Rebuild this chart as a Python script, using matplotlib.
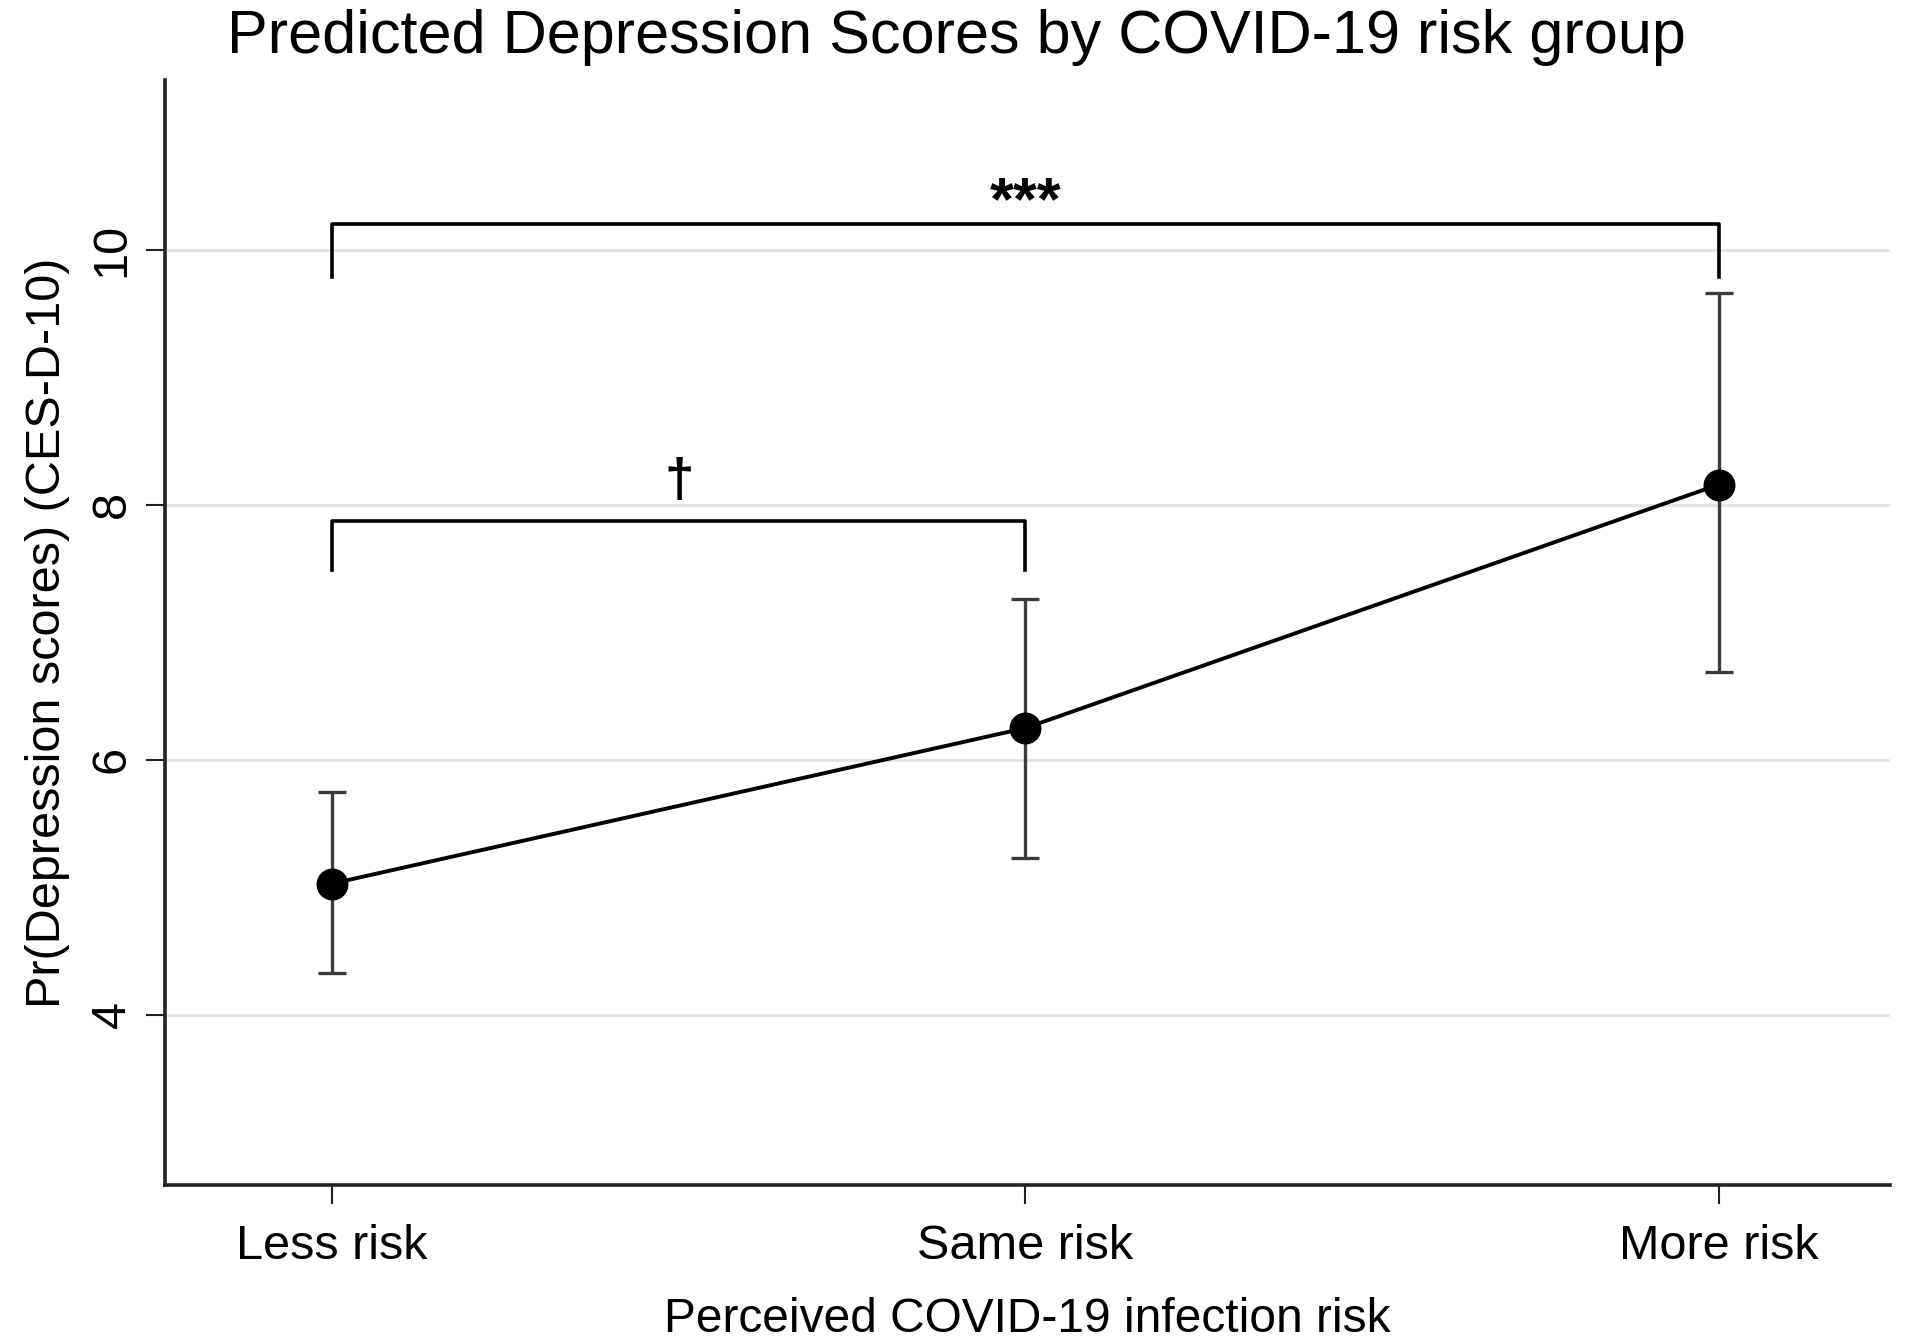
import matplotlib
matplotlib.use("Agg")
import matplotlib.pyplot as plt

categories = ["Less risk", "Same risk", "More risk"]
predicted = [5.03, 6.25, 8.16]
ci_lower = [4.33, 5.23, 6.69]
ci_upper = [5.75, 7.26, 9.66]
y_ticks = [4, 6, 8, 10]

plt.rcParams['font.family'] = ['Liberation Sans', 'DejaVu Sans']

fig = plt.figure(figsize=(19.12, 13.39), dpi=100)
ax = fig.add_axes([0.0863, 0.115, 0.9022, 0.825])

x = [1, 2, 3]
err_lo = [p - l for p, l in zip(predicted, ci_lower)]
err_hi = [u - p for p, u in zip(predicted, ci_upper)]

ax.errorbar(x, predicted, yerr=[err_lo, err_hi], fmt='none', ecolor='#3c3c3c',
            elinewidth=2.4, capsize=10, capthick=2.4, zorder=2)
ax.plot(x, predicted, color='black', lw=2.8, zorder=3)
ax.plot(x, predicted, 'o', color='black', ms=22, zorder=4)

# significance brackets
def bracket(x1, x2, y, drop, label, ty, fs):
    ax.plot([x1, x1, x2, x2], [y - drop, y, y, y - drop], color='black', lw=2.6, zorder=2)
    ax.text((x1 + x2) / 2, ty, label, ha='center', va='center', fontsize=fs,
            fontweight='bold')

bracket(1, 3, 10.2, 0.41, "***", 10.36, 44)
bracket(1, 2, 7.87, 0.38, "†", 8.18, 38)

ax.set_xlim(0.759, 3.247)
ax.set_ylim(2.666, 11.33)
ax.set_xticks(x)
ax.set_xticklabels(categories)
ax.set_yticks(y_ticks)
ax.set_yticklabels([str(t) for t in y_ticks], rotation=90, va='center')
ax.grid(axis='y', color='#e3e3e3', lw=2)
ax.set_axisbelow(True)

for s in ['top', 'right']:
    ax.spines[s].set_visible(False)
for s in ['left', 'bottom']:
    ax.spines[s].set_linewidth(2.6)
    ax.spines[s].set_color('#222222')

ax.tick_params(axis='both', length=14, width=1.5, color='#222222', labelsize=35, pad=8)
ax.tick_params(axis='x', pad=14)

ax.set_xlabel("Perceived COVID-19 infection risk", fontsize=34.5, labelpad=20)
ax.set_ylabel("Pr(Depression scores) (CES-D-10)", fontsize=35, labelpad=14)
fig.text(0.5, 0.972, "Predicted Depression Scores by COVID-19 risk group",
         ha='center', va='center', fontsize=44)

fig.savefig("out.png", dpi=100, facecolor='white')
